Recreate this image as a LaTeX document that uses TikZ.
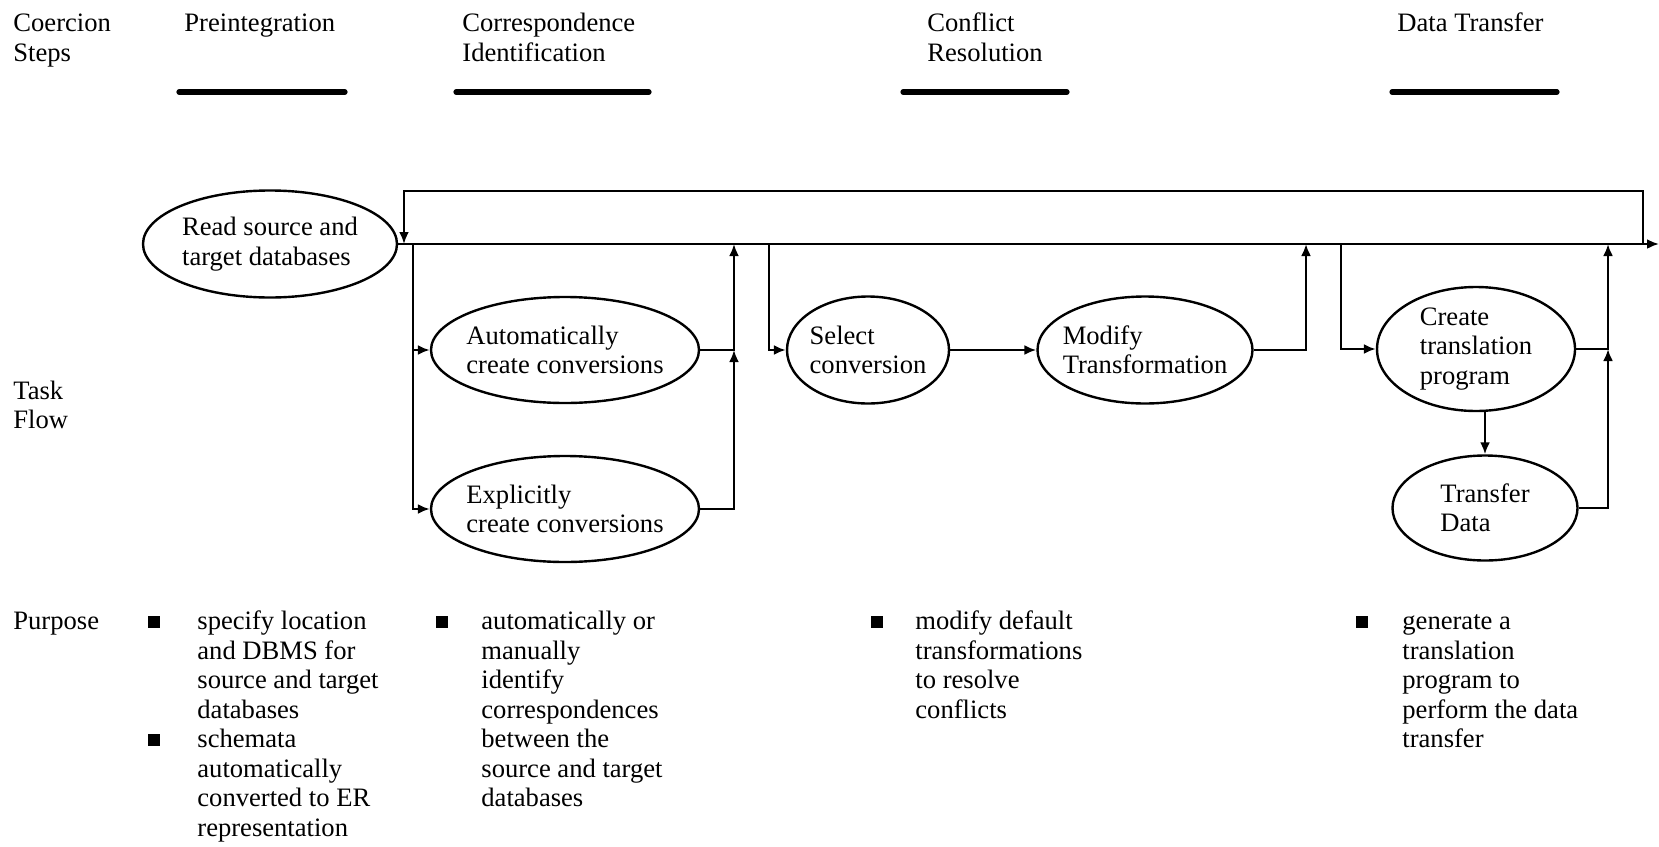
\documentclass[tikz,border=0pt]{standalone}
\usepackage{fontspec}
\setmainfont{Liberation Serif}
\usetikzlibrary{shapes.geometric,arrows.meta}

\tikzset{
  task/.style={draw, ellipse, line width=1.2pt, inner xsep=-4pt, inner ysep=0pt, align=left},
  flow/.style={line width=1.2pt, -{Latex[length=6pt,width=5pt]}},
  lbl/.style={anchor=north west, inner sep=0pt, align=left},
  bar/.style={line width=2.6pt, line cap=round},
  sq/.style={fill=black, inner sep=0pt, minimum width=6pt, minimum height=6pt},
}

\begin{document}
\begin{tikzpicture}[x=0.5pt, y=-0.5pt, font=\fontsize{13.3}{14.75}\selectfont]
        \useasboundingbox (0,0) rectangle (1659,846);

        % coercion steps
        \node[lbl] (coer) at (13,10.5) {\strut Coercion\\Steps};
        \node[lbl] (pre)  at (184,10.5) {\strut Preintegration};
        \node[lbl] (corr) at (462,10.5) {\strut Correspondence\\Identification};
        \node[lbl] (conf) at (927,10.5) {\strut Conflict\\Resolution};
        \node[lbl] (dtr)  at (1397,10.5) {\strut Data Transfer};

        \draw[bar] (179,92) -- (345,92);
        \draw[bar] (456,92) -- (649,92);
        \draw[bar] (903,92) -- (1067,92);
        \draw[bar] (1392,92) -- (1557,92);

        % task flow
        \node[lbl] (tflow) at (13,378) {\strut Task\\Flow};

        \node[task, minimum width=127pt, minimum height=53.5pt] (read) at (270,244) {Read source and\\target databases};
        \node[task, minimum width=134pt, minimum height=53pt] (auto) at (565,350) {Automatically\\create conversions};
        \node[task, minimum width=134pt, minimum height=53pt] (expl) at (565,509) {Explicitly\\create conversions};
        \node[task, minimum width=81pt, minimum height=53.5pt] (select) at (868,350) {Select\\conversion};
        \node[task, minimum width=107.5pt, minimum height=53.5pt] (modify) at (1145,350) {Modify\\Transformation};
        \node[task, minimum width=99pt, minimum height=62pt] (create) at (1476,349) {Create\\translation\\program};
        \node[task, minimum width=92.5pt, minimum height=52.5pt] (transfer) at (1485,508) {Transfer\\Data};

        \coordinate (loopin) at (404,244);
        \coordinate (b1) at (413,244);
        \coordinate (m1) at (734,244);
        \coordinate (b2) at (769,244);
        \coordinate (m2) at (1306,244);
        \coordinate (b3) at (1341,244);
        \coordinate (m3) at (1608,244);
        \coordinate (loopout) at (1643,244);
        \coordinate (exit) at (1659,244);

        \draw[flow] (read.east) -- (exit);
        \draw[flow] (loopout) -- ++(0,-53) -| (loopin);

        \draw[flow] (b1) |- (auto.west);
        \draw[flow] (b1) |- (expl.west);
        \draw[flow] (auto.east) -| (m1);
        \draw[flow] (expl.east) -| (m1 |- auto.east);

        \draw[flow] (b2) |- (select.west);
        \draw[flow] (select) -- (modify);
        \draw[flow] (modify.east) -| (m2);

        \draw[flow] (b3) |- (create.west);
        \draw[flow] (transfer.north |- create.south) -- (transfer.north);
        \draw[flow] (create.east) -| (m3);
        \draw[flow] (transfer.east) -| (m3 |- create.east);

        % purpose
        \node[lbl] (purp) at (13,608.5) {\strut Purpose};

        \node[sq] (q1) at (153.5,622) {};
        \node[lbl] (p1) at (197,608.5) {\strut specify location\\and DBMS for\\source and target\\databases};
        \node[sq] (q2) at (153.5,740) {};
        \node[lbl] (p2) at (197,726.5) {\strut schemata\\automatically\\converted to ER\\representation};
        \node[sq] (q3) at (442,622) {};
        \node[lbl] (p3) at (481,608.5) {\strut automatically or\\manually\\identify\\correspondences\\between the\\source and target\\databases};
        \node[sq] (q4) at (877,622) {};
        \node[lbl] (p4) at (915,608.5) {\strut modify default\\transformations\\to resolve\\conflicts};
        \node[sq] (q5) at (1362,622) {};
        \node[lbl] (p5) at (1402,608.5) {\strut generate a\\translation\\program to\\perform the data\\transfer};
    \end{tikzpicture}
\end{document}
